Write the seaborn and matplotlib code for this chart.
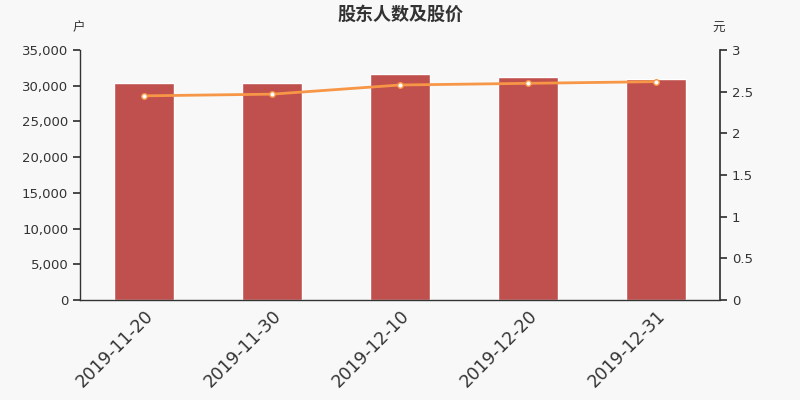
import matplotlib
matplotlib.use("Agg")
import matplotlib.pyplot as plt
import seaborn as sns
import pandas as pd
from matplotlib.ticker import FuncFormatter

# ---- data ----
dates = ["2019-11-20", "2019-11-30", "2019-12-10", "2019-12-20", "2019-12-31"]
holders = [30380, 30330, 31690, 31220, 30940]
price = [2.45, 2.47, 2.58, 2.60, 2.62]

df = pd.DataFrame({"date": dates, "holders": holders, "price": price})

sns.set_theme(style="white")
plt.rcParams["font.family"] = ["Noto Sans CJK SC", "DejaVu Sans"]

bg = "#f8f8f8"
txt = "#333333"

fig = plt.figure(figsize=(8, 4), dpi=100, facecolor=bg)
ax = fig.add_axes([0.1, 0.25, 0.8, 0.625])
ax.set_facecolor(bg)

sns.barplot(data=df, x="date", y="holders", color="#c0504d", width=0.47,
            saturation=1, ax=ax)
ax.set_xlim(-0.5, len(dates) - 0.5)
ax.set_ylim(0, 35000)
ax.set_yticks(range(0, 35001, 5000))
ax.yaxis.set_major_formatter(FuncFormatter(lambda v, p: f"{int(v):,}"))
ax.set_xlabel("")
ax.set_ylabel("")

# x ticks at category boundaries, labels at bar centres
ax.set_xticks([i + 0.5 for i in range(len(dates) - 1)], minor=False)
ax.set_xticklabels([])
ax.set_xticks(range(len(dates)), minor=True)
ax.set_xticklabels(dates, minor=True, rotation=45, ha="right",
                   rotation_mode="anchor", fontsize=12.5, color=txt,
                   family="DejaVu Sans")
ax.tick_params(axis="x", which="minor", length=0, pad=5)
ax.tick_params(axis="x", which="major", length=5, color=txt, direction="out")
ax.tick_params(axis="y", length=5, color=txt, labelsize=9.5, labelcolor=txt,
               direction="out", left=True)
for lab in ax.get_yticklabels():
    lab.set_family("DejaVu Sans")

for s in ["top", "right"]:
    ax.spines[s].set_visible(False)
for s in ["left", "bottom"]:
    ax.spines[s].set_color(txt)
    ax.spines[s].set_linewidth(1)

ax2 = ax.twinx()
sns.lineplot(x=list(range(len(dates))), y=price, ax=ax2, color="#f79646",
             linewidth=2, marker="o", markersize=4, markerfacecolor="white",
             markeredgecolor="#f79646", markeredgewidth=1)
ax2.set_ylim(0, 3)
ax2.set_yticks([0, 0.5, 1, 1.5, 2, 2.5, 3])
ax2.yaxis.set_major_formatter(FuncFormatter(lambda v, p: f"{v:g}"))
ax2.tick_params(axis="y", length=5, color=txt, labelsize=9.5, labelcolor=txt,
                direction="out", right=True)
for lab in ax2.get_yticklabels():
    lab.set_family("DejaVu Sans")
for s in ["top", "left", "bottom"]:
    ax2.spines[s].set_visible(False)
ax2.spines["right"].set_color(txt)
ax2.set_ylabel("")

fig.text(0.5, 0.965, "股东人数及股价", ha="center", va="center",
         fontsize=13, fontweight="bold", color=txt)
fig.text(0.098, 0.93, "户", ha="center", va="center", fontsize=9, color=txt)
fig.text(0.898, 0.93, "元", ha="center", va="center", fontsize=9, color=txt)

fig.savefig("out.png", dpi=100, facecolor=bg)
